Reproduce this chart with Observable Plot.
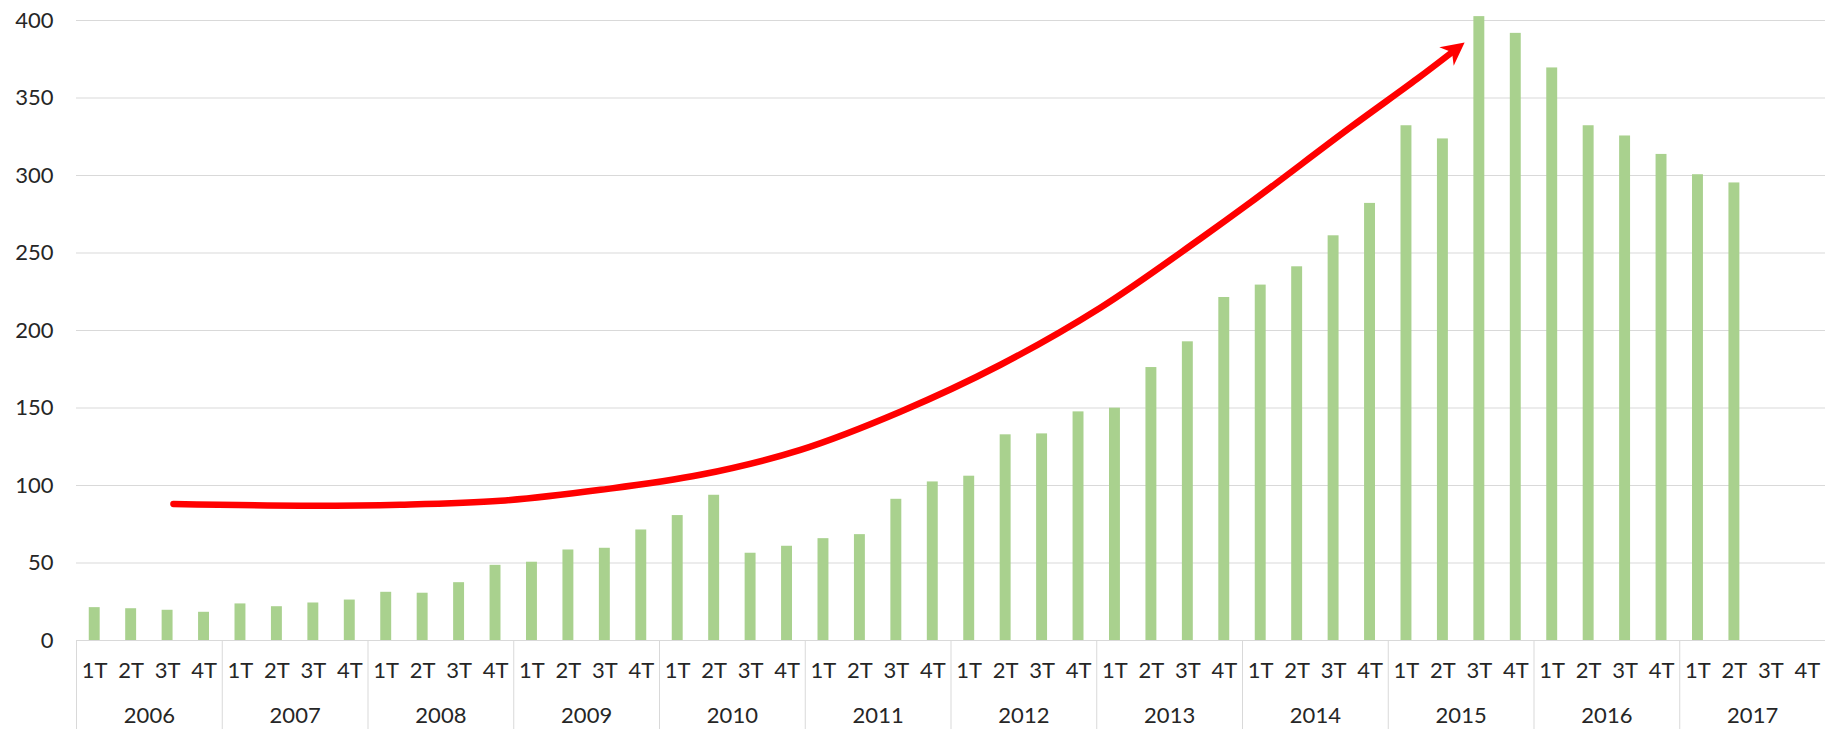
<!DOCTYPE html>
<html>
<head>
<meta charset="utf-8">
<script src="https://cdn.jsdelivr.net/npm/d3@7"></script>
<script src="https://cdn.jsdelivr.net/npm/@observablehq/plot@0.6"></script>
<style>
  html, body { margin: 0; padding: 0; background: #fff; overflow: hidden; }
</style>
</head>
<body>
<div id="chart"></div>
<script>
// ---- data ----
const years = ["2006","2007","2008","2009","2010","2011","2012","2013","2014","2015","2016","2017"];
const quarterLabels = ["1T","2T","3T","4T"];
const values = [
  21.2, 20.5, 19.5, 18.2,
  23.6, 21.8, 24.2, 26.1,
  31.1, 30.5, 37.3, 48.5,
  50.5, 58.4, 59.5, 71.3,
  80.6, 93.7, 56.3, 60.8,
  65.7, 68.3, 91.1, 102.3,
  106.0, 132.7, 133.3, 147.5,
  149.9, 176.1, 192.7, 221.3,
  229.3, 241.1, 261.1, 282.0,
  332.1, 323.6, 402.5, 391.7,
  369.4, 332.1, 325.5, 313.6,
  300.5, 295.2, null, null
];
const yTicks = [0, 50, 100, 150, 200, 250, 300, 350, 400];
// trend arrow (x in quarter-index units, y in value units)
const trendX = [2.66, 6.15, 8.89, 11.64, 14.38, 17.12, 19.87, 22.61, 25.36, 28.10, 30.84, 32.22, 34.96, 36.79, 37.75];
const trendY = [88.1, 87.0, 87.6, 90.1, 97.2, 106.9, 123.0, 147.6, 177.9, 214.7, 259.2, 282.6, 331.0, 362.3, 379.5];

// ---- derived tables ----
const bars = values
  .map((v, i) => ({i, v, year: years[Math.floor(i / 4)], q: quarterLabels[i % 4]}))
  .filter(d => d.v != null);
const nQ = years.length * 4;
const qTicks = d3.range(nQ).map(i => i + 0.5);
const yearTicks = years.map((y, k) => k * 4 + 2);
const yearBounds = d3.range(years.length + 1).map(k => k * 4);
const trend = trendX.map((x, k) => ({x, y: trendY[k]}));

// filled "stealth" arrowhead, origin at the notch
const ang = 38 * Math.PI / 180;
const fx = Math.cos(ang), fy = -Math.sin(ang);
const px = Math.sin(ang), py = Math.cos(ang);
const arrowHead = {
  draw(ctx) {
    ctx.moveTo(16 * fx, 16 * fy);
    ctx.lineTo(-7 * fx + 11.7 * px, -7 * fy + 11.7 * py);
    ctx.lineTo(0, 0);
    ctx.lineTo(-7 * fx - 11.7 * px, -7 * fy - 11.7 * py);
    ctx.closePath();
  }
};

const chart = Plot.plot({
  width: 1825,
  height: 729,
  marginLeft: 76,
  marginRight: 0,
  marginTop: 20,
  marginBottom: 89,
  x: {domain: [0, nQ], axis: null},
  y: {domain: [0, 400], axis: null},
  style: {fontFamily: "Lato, 'Open Sans', sans-serif", fontSize: "22px", color: "#262626", background: "#fff", overflow: "visible"},
  marks: [
    Plot.gridY(yTicks, {stroke: "#d9d9d9", strokeOpacity: 1, strokeWidth: 1}),
    Plot.axisY(yTicks, {tickSize: 0, tickPadding: 23, label: null}),
    Plot.rectY(bars, {x1: d => d.i + 0.35, x2: d => d.i + 0.65, y: "v", fill: "#A9D18E"}),
    Plot.ruleY([0], {stroke: "#d9d9d9", strokeWidth: 1}),
    Plot.axisX(yearBounds, {tickSize: 90, stroke: "#d9d9d9", strokeOpacity: 1, tickFormat: () => "", label: null}),
    Plot.axisX(qTicks, {tickSize: 0, tickPadding: 22, tickFormat: d => quarterLabels[Math.floor(d) % 4], label: null}),
    Plot.axisX(yearTicks, {tickSize: 0, tickPadding: 67, tickFormat: d => years[(d - 2) / 4], label: null}),
    Plot.line(trend, {x: "x", y: "y", stroke: "#ff0000", strokeWidth: 6.5, curve: "catmull-rom"}),
    Plot.dot(trend.slice(-1), {x: "x", y: "y", symbol: arrowHead, fill: "#ff0000", stroke: "none"})
  ]
});
document.getElementById("chart").append(chart);
</script>
</body>
</html>
